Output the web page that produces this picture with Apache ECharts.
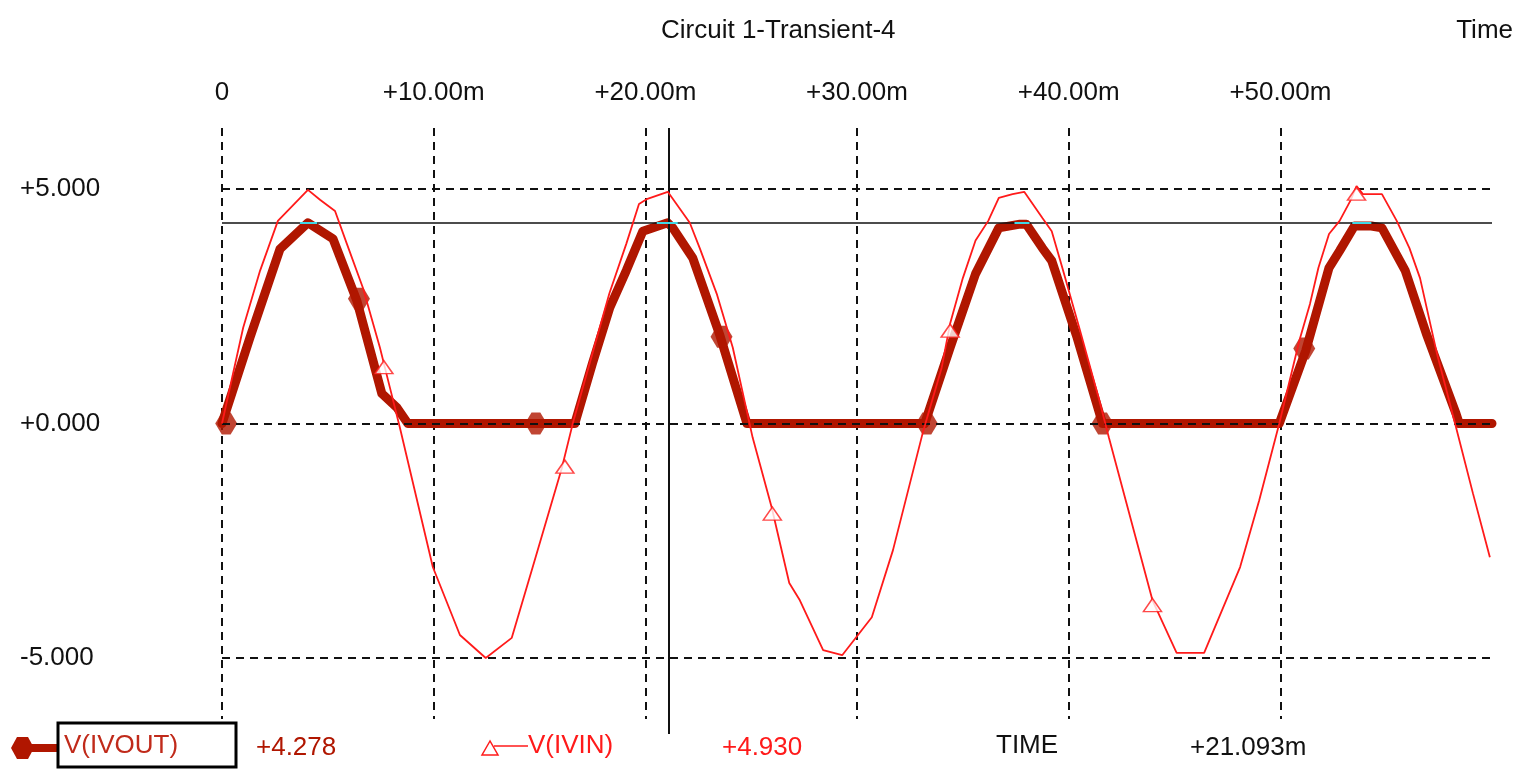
<!DOCTYPE html>
<html lang="en">
  <head>
    <meta charset="UTF-8" />
    <title>Circuit 1-Transient-4</title>
    <script src="https://cdn.jsdelivr.net/npm/echarts@6/dist/echarts.min.js"></script>
    <style>
      html, body { margin: 0; padding: 0; background: #fff; }
    </style>
  </head>
  <body>
    <div id="main" style="width: 1524px; height: 769px;"></div>
    <script type="text/javascript">
      // time in ms, volts
      var vinTime = [0, 1.0, 1.8, 2.64, 4.06, 4.63, 5.34, 5.9, 6.66, 7.46, 7.93, 8.4, 9.96, 11.24, 12.46, 13.69, 14.68, 16.05, 16.6,
        17.5, 18.3, 19.1, 19.7, 20.1, 21.06, 22.1, 22.57, 23.37, 24.13, 25.07, 25.97, 26.8, 27.3, 28.4, 29.3, 30.7, 31.7, 33.1,
        34.0, 34.4, 35.0, 35.6, 36.2, 36.7, 37.35, 37.9, 38.76, 39.2, 39.7, 40.5, 41.45, 41.9, 43.96, 45.1, 46.4, 48.1, 49.0, 49.95,
        50.9, 51.4, 51.8, 52.3, 52.8, 53.3, 53.6, 53.9, 54.8, 55.5, 56.1, 56.6, 57.4, 58.3, 59.1, 59.9];
      var vinVolts = [0, 2.04, 3.26, 4.32, 4.98, 4.77, 4.53, 3.83, 2.89, 1.62, 0.77, -0.08, -3.06, -4.51, -5.0, -4.57, -3.06, -0.96, 0.05,
        1.49, 2.77, 3.83, 4.68, 4.79, 4.94, 4.28, 3.74, 2.77, 1.62, -0.3, -1.79, -3.4, -3.77, -4.83, -4.94, -4.13, -2.7, -0.21,
        1.19, 2.13, 3.1, 3.9, 4.32, 4.81, 4.89, 4.94, 4.38, 4.1, 3.32, 2.04, 0.49, -0.3, -3.77, -4.89, -4.89, -3.06, -1.64, 0,
        1.77, 2.55, 3.32, 4.04, 4.32, 4.74, 5.06, 4.89, 4.89, 4.32, 3.74, 3.1, 1.49, -0.08, -1.49, -2.85];

      var voutTime = [0, 1.32, 2.74, 4.06, 5.24, 6.37, 7.55, 8.26, 8.78, 16.67, 17.5, 18.32, 19.1, 19.88, 21.06, 21.3, 22.24, 23.5, 24.8,
        33.2, 34.4, 35.6, 36.7, 37.7, 38.0, 38.76, 39.2, 40.4, 41.6, 49.95, 51.2, 52.3, 52.8, 53.5, 54.3, 54.8, 55.9, 56.9, 58.3, 58.45, 60];
      var voutVolts = [0, 1.83, 3.72, 4.28, 3.94, 2.62, 0.64, 0.34, 0, 0, 1.28, 2.47, 3.26, 4.1, 4.278, 4.17, 3.53, 1.91, 0,
        0, 1.62, 3.19, 4.17, 4.25, 4.25, 3.74, 3.47, 1.83, 0, 0, 1.55, 3.32, 3.68, 4.21, 4.21, 4.17, 3.26, 1.91, 0.21, 0, 0];

      var voutMarkTime = [0.2, 6.47, 14.83, 23.6, 33.3, 41.6, 51.13];
      var voutMarkVolts = [0, 2.66, 0, 1.85, 0, 0, 1.6];
      var vinMarkTime = [7.65, 16.2, 26.0, 34.4, 43.96, 53.6];
      var vinMarkVolts = [1.2, -0.92, -1.92, 1.98, -3.87, 4.9];

      var yTicks = [-5, 0, 5];
      var cursorTime = 21.093;
      var cursorVout = 4.278;
      var cursorVin = 4.93;
      var cyanSpans = [[3.68, 4.49], [20.54, 21.53], [37.44, 38.15], [53.4, 54.3]];

      function pairs(xs, ys) {
        return xs.map(function (x, i) { return [x, ys[i]]; });
      }

      var FONT = "Liberation Sans";
      var VOUT_COLOR = "#b01600";
      var VIN_COLOR = "#ff1a1a";
      var hexPath = "path://M0,5 L3,0 L7,0 L10,5 L7,10 L3,10 Z";
      var dash = { color: "#111", width: 2, type: [8, 6] };

      var myChart = echarts.init(document.getElementById("main"));
      var option = {
        animation: false,
        backgroundColor: "#fff",
        title: [
          { text: "Circuit 1-Transient-4", left: 656, top: 13,
            textStyle: { fontFamily: FONT, fontSize: 26, fontWeight: "normal", color: "#111" } },
          { text: "Time", right: 6, top: 13,
            textStyle: { fontFamily: FONT, fontSize: 26, fontWeight: "normal", color: "#111" } }
        ],
        grid: { left: 222, right: 32, top: 128, bottom: 50 },
        xAxis: {
          type: "value",
          position: "top",
          min: 0,
          max: 60,
          interval: 10,
          axisLine: { show: false },
          axisTick: { show: false },
          axisLabel: {
            margin: 22,
            fontFamily: FONT,
            fontSize: 26,
            color: "#111",
            formatter: function (v) {
              if (v === 0) return "0";
              if (v >= 60) return "";
              return "+" + v.toFixed(2) + "m";
            }
          },
          splitLine: { show: true, showMaxLine: false, lineStyle: dash }
        },
        yAxis: {
          type: "value",
          min: -6.3,
          max: 6.3,
          axisLine: { show: false },
          axisTick: { show: false },
          splitLine: { show: false },
          axisLabel: {
            customValues: yTicks,
            align: "left",
            margin: 202,
            fontFamily: FONT,
            fontSize: 26,
            color: "#111",
            formatter: function (v) {
              return (v < 0 ? "-" : "+") + Math.abs(v).toFixed(3);
            }
          }
        },
        series: [
          {
            name: "V(IVOUT)",
            type: "line",
            data: pairs(voutTime, voutVolts),
            symbol: "none",
            z: 3,
            lineStyle: { color: VOUT_COLOR, width: 9, join: "round", cap: "round" },
            markLine: {
              silent: true,
              symbol: "none",
              label: { show: false },
              lineStyle: dash,
              data: yTicks.map(function (v) { return { yAxis: v }; })
            }
          },
          {
            name: "V(IVOUT) marks",
            type: "scatter",
            data: pairs(voutMarkTime, voutMarkVolts),
            symbol: hexPath,
            symbolSize: [22, 22],
            z: 4,
            itemStyle: { color: VOUT_COLOR }
          },
          {
            name: "V(IVIN)",
            type: "line",
            data: pairs(vinTime, vinVolts),
            symbol: "none",
            z: 5,
            lineStyle: { color: VIN_COLOR, width: 1.8 }
          },
          {
            name: "V(IVIN) marks",
            type: "scatter",
            data: pairs(vinMarkTime, vinMarkVolts),
            symbol: "triangle",
            symbolSize: [18, 13],
            z: 6,
            itemStyle: { color: "#fff", borderColor: VIN_COLOR, borderWidth: 1.5 }
          },
          {
            // cursor
            name: "cursor",
            type: "line",
            data: [],
            z: 7,
            markLine: {
              silent: true,
              symbol: "none",
              label: { show: false },
              data: [
                { xAxis: cursorTime, lineStyle: { color: "#111", width: 2, type: "solid" } },
                { yAxis: cursorVout, lineStyle: { color: "#111", width: 1.5, type: "solid" } }
              ].concat(cyanSpans.map(function (s) {
                return [
                  { coord: [s[0], cursorVout], lineStyle: { color: "#3fd8e6", width: 2, type: "solid" } },
                  { coord: [s[1], cursorVout] }
                ];
              }))
            }
          }
        ],
        graphic: [
          // legend / cursor readout
          { type: "line", shape: { x1: 14, y1: 748, x2: 58, y2: 748 }, style: { stroke: VOUT_COLOR, lineWidth: 8 } },
          { type: "polygon", shape: { points: [[11, 748], [17, 737], [28, 737], [34, 748], [28, 759], [17, 759]] }, style: { fill: VOUT_COLOR } },
          { type: "line", shape: { x1: 669, y1: 719, x2: 669, y2: 734 }, style: { stroke: "#111", lineWidth: 2 } },
          { type: "rect", shape: { x: 58, y: 723, width: 178, height: 44 }, style: { fill: "none", stroke: "#000", lineWidth: 3 } },
          { type: "text", x: 64, y: 746, style: { text: "V(IVOUT)", fill: "#c02a1a", font: "26px " + FONT, verticalAlign: "middle" } },
          { type: "text", x: 256, y: 748, style: { text: "+" + cursorVout.toFixed(3), fill: "#b01600", font: "26px " + FONT, verticalAlign: "middle" } },
          { type: "polygon", shape: { points: [[490, 741], [482, 755], [498, 755]] }, style: { fill: "none", stroke: VIN_COLOR, lineWidth: 1.5 } },
          { type: "line", shape: { x1: 494, y1: 746, x2: 528, y2: 746 }, style: { stroke: VIN_COLOR, lineWidth: 1.5 } },
          { type: "text", x: 528, y: 746, style: { text: "V(IVIN)", fill: VIN_COLOR, font: "26px " + FONT, verticalAlign: "middle" } },
          { type: "text", x: 722, y: 748, style: { text: "+" + cursorVin.toFixed(3), fill: VIN_COLOR, font: "26px " + FONT, verticalAlign: "middle" } },
          { type: "text", x: 996, y: 746, style: { text: "TIME", fill: "#111", font: "26px " + FONT, verticalAlign: "middle" } },
          { type: "text", x: 1190, y: 748, style: { text: "+" + cursorTime.toFixed(3) + "m", fill: "#111", font: "26px " + FONT, verticalAlign: "middle" } }
        ]
      };

      myChart.setOption(option);
    </script>
  </body>
</html>
